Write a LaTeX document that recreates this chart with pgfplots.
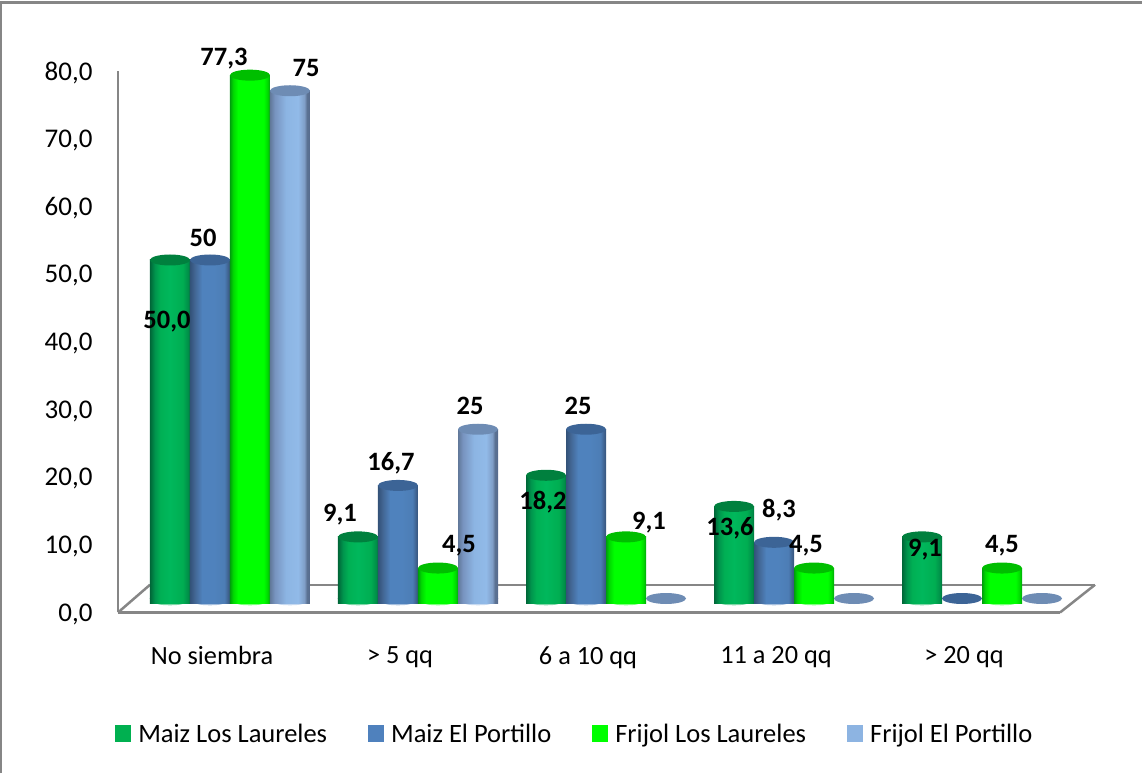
\documentclass[border=0pt]{standalone}
\usepackage{pgfplots}
\usepackage{pgfplotstable}
\usepackage{fontspec}
\setmainfont{Carlito}
\pgfplotsset{compat=1.18}
\pgfplotstableread{
x a b c d
0 50 50 77.3 75
1 9.1 16.7 4.5 25
2 18.2 25 9.1 0
3 13.6 8.3 4.5 0
4 9.1 0 4.5 0
}\datatable
\definecolor{cA}{RGB}{0,176,80}
\definecolor{cB}{RGB}{79,129,189}
\definecolor{cC}{RGB}{0,255,0}
\definecolor{cD}{RGB}{141,180,226}
\definecolor{tA}{RGB}{0,128,62}
\definecolor{tB}{RGB}{60,100,150}
\definecolor{tC}{RGB}{0,190,0}
\definecolor{tD}{RGB}{110,140,180}
\definecolor{axg}{RGB}{134,134,134}
\pgfdeclarehorizontalshading{cylA}{100bp}{rgb(0bp)=(0,.40,.22);rgb(25bp)=(0,.40,.22);rgb(31bp)=(0,.58,.30);rgb(38bp)=(0,.69,.33);rgb(50bp)=(0,.72,.36);rgb(66bp)=(0,.68,.32);rgb(73bp)=(0,.55,.28);rgb(75bp)=(0,.45,.24);rgb(100bp)=(0,.45,.24)}
\pgfdeclarehorizontalshading{cylB}{100bp}{rgb(0bp)=(.20,.32,.47);rgb(25bp)=(.20,.32,.47);rgb(31bp)=(.26,.40,.58);rgb(40bp)=(.31,.51,.74);rgb(55bp)=(.31,.51,.74);rgb(68bp)=(.30,.49,.71);rgb(73bp)=(.24,.37,.54);rgb(75bp)=(.21,.33,.49);rgb(100bp)=(.21,.33,.49)}
\pgfdeclarehorizontalshading{cylC}{100bp}{rgb(0bp)=(0,.62,.05);rgb(25bp)=(0,.62,.05);rgb(29bp)=(0,.85,0);rgb(35bp)=(0,1,0);rgb(67bp)=(0,1,0);rgb(72bp)=(0,.85,0);rgb(75bp)=(0,.65,.05);rgb(100bp)=(0,.65,.05)}
\pgfdeclarehorizontalshading{cylD}{100bp}{rgb(0bp)=(.38,.47,.60);rgb(25bp)=(.38,.47,.60);rgb(31bp)=(.47,.58,.75);rgb(45bp)=(.55,.71,.89);rgb(60bp)=(.57,.73,.91);rgb(68bp)=(.50,.62,.78);rgb(71bp)=(.36,.45,.58);rgb(75bp)=(.34,.42,.55);rgb(100bp)=(.34,.42,.55)}
\pgfdeclareplotmark{cyltop}{\pgfpathellipse{\pgfpointorigin}{\pgfpoint{20pt}{0pt}}{\pgfpoint{0pt}{5.5pt}}\pgfusepathqfill}
\pgfdeclareplotmark{cylpale}{\pgfpathellipse{\pgfpoint{0pt}{-5pt}}{\pgfpoint{13pt}{0pt}}{\pgfpoint{0pt}{1.8pt}}\pgfusepathqfill}
\pgfdeclareplotmark{baseA}{\pgfpathrectanglecorners{\pgfpoint{-20pt}{-5pt}}{\pgfpoint{20pt}{0.5pt}}\pgfshadepath{cylA}{0}\pgfusepath{discard}}
\pgfdeclareplotmark{baseB}{\pgfpathrectanglecorners{\pgfpoint{-20pt}{-5pt}}{\pgfpoint{20pt}{0.5pt}}\pgfshadepath{cylB}{0}\pgfusepath{discard}}
\pgfdeclareplotmark{baseC}{\pgfpathrectanglecorners{\pgfpoint{-20pt}{-5pt}}{\pgfpoint{20pt}{0.5pt}}\pgfshadepath{cylC}{0}\pgfusepath{discard}}
\pgfdeclareplotmark{baseD}{\pgfpathrectanglecorners{\pgfpoint{-20pt}{-5pt}}{\pgfpoint{20pt}{0.5pt}}\pgfshadepath{cylD}{0}\pgfusepath{discard}}
% a single body, so that its shading spans just this one bar
\newcommand{\cylbar}[4]{% column, letter, shift, category
  \addplot[forget plot,ybar,bar width=40pt,bar shift=#3pt,draw=none,shade,shading=cyl#2,
    restrict x to domain=#4:#4,restrict y to domain=0.01:100] table[x=x,y=#1]{\datatable};
}
% one series: pale fringe and foot at the floor (bars with a value only), bodies, top ellipse
\newcommand{\cylinder}[4]{% column, letter, shift, pale colour
  \addplot[forget plot,only marks,mark=cylpale,restrict y to domain=-1:1,
    mark options={xshift=#3pt,fill=#4,draw=none}] table[x=x,y expr={ifthenelse(\thisrow{#1}>0,0,-100)}]{\datatable};
  \addplot[forget plot,only marks,mark=base#2,restrict y to domain=-1:1,
    mark options={xshift=#3pt,draw=none}] table[x=x,y expr={ifthenelse(\thisrow{#1}>0,0,-100)}]{\datatable};
  \cylbar{#1}{#2}{#3}{0}\cylbar{#1}{#2}{#3}{1}\cylbar{#1}{#2}{#3}{2}\cylbar{#1}{#2}{#3}{3}\cylbar{#1}{#2}{#3}{4}
  \addplot[forget plot,only marks,mark=cyltop,
    mark options={xshift=#3pt,fill=t#2,draw=none}] table[x=x,y=#1]{\datatable};
}
\newcommand{\lbl}[3]{\node[font=\bfseries\fontsize{26.5}{30}\selectfont,inner sep=0pt] at (#1,773-#2) {#3};}
\begin{document}
\begin{tikzpicture}[x=1pt,y=1pt]
\useasboundingbox (0,0) rectangle (1142,773);
\draw[axg,line width=2.5pt] (1,0) -- (1,770.5) -- (1142,770.5);
% walls and floor, with the value axis
\begin{scope}[shift={(118pt,160.5pt)}]
\begin{axis}[anchor=south west,scale only axis,width=942pt,height=541pt,
  xmin=118,xmax=1060,ymin=0,ymax=80,clip=false,
  axis x line*=bottom,axis y line*=left,
  axis line style={draw=axg,line width=2.5pt,-},
  xtick=\empty,ytick={0,10,...,80},tick style={draw=none},
  yticklabel style={font=\fontsize{27}{30}\selectfont,xshift=-22pt,yshift=-1.5pt},
  /pgf/number format/.cd,fixed,fixed zerofill,precision=1,use comma,assume math mode=true]
\addplot[axg,line width=2.5pt,mark=none] coordinates {(118,0) (150,4.1)};
\addplot[axg,line width=2.5pt,mark=none] coordinates {(150,4.1) (1095,4.1)};
\addplot[axg,line width=2.5pt,mark=none] coordinates {(1060,0) (1095,4.1)};
\end{axis}
\end{scope}
% cylinders
\begin{scope}[shift={(118pt,158pt)}]
\begin{axis}[anchor=south west,scale only axis,width=982pt,height=575pt,
  xmin=-0.5957,xmax=4.6277,ymin=-2.437,ymax=82.496,clip=false,
  axis line style={draw=none},tick style={draw=none},ytick=\empty,
  xtick={0,1,2,3,4},
  xticklabels={No siembra,{> 5 qq},6 a 10 qq,11 a 20 qq,{> 20 qq}},
  xticklabel style={font=\fontsize{26.3}{30}\selectfont,xshift=-18pt,yshift=-28pt},
  legend columns=4,
  legend style={draw=none,fill=none,at={(-0.006,-0.2065)},anchor=west,
    font=\fontsize{26.5}{30}\selectfont,
    /tikz/every even column/.append style={column sep=39pt},
    /tikz/every odd column/.append style={column sep=5.5pt}},
  legend cell align=left,
  legend image code/.code={\fill[#1] (0pt,-8pt) rectangle (15.5pt,9pt);}]
\cylinder{a}{A}{-60}{cA!50!white}
\cylinder{b}{B}{-20}{cB!50!white}
\cylinder{c}{C}{20}{cC!50!white}
\cylinder{d}{D}{60}{cD!50!white}
\addlegendimage{fill=cA,draw=none}\addlegendentry{Maiz Los Laureles}
\addlegendimage{fill=cB,draw=none}\addlegendentry{Maiz El Portillo}
\addlegendimage{fill=cC,draw=none}\addlegendentry{Frijol Los Laureles}
\addlegendimage{fill=cD,draw=none}\addlegendentry{Frijol El Portillo}
\end{axis}
\end{scope}
% data labels
\lbl{167}{322}{50,0}\lbl{203}{238}{50}\lbl{224}{59}{77,3}\lbl{306}{68}{75}
\lbl{340}{515}{9,1}\lbl{391}{463}{16,7}\lbl{459}{546}{4,5}\lbl{470}{406}{25}
\lbl{543}{502}{18,2}\lbl{578}{406}{25}\lbl{649}{523}{9,1}
\lbl{730}{528}{13,6}\lbl{779}{510}{8,3}\lbl{806}{546}{4,5}
\lbl{925}{550}{9,1}\lbl{1002}{546}{4,5}
\end{tikzpicture}
\end{document}
